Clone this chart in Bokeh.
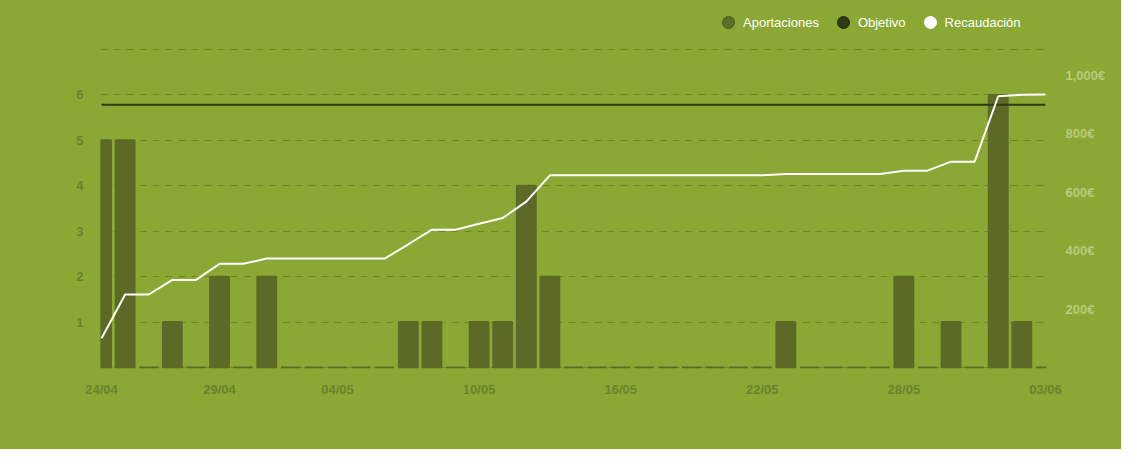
from bokeh.plotting import figure
from bokeh.models import Range1d, LinearAxis, FixedTicker, Legend, LegendItem, ColumnDataSource
from bokeh.embed import file_html
from bokeh.resources import INLINE

# ---- data -------------------------------------------------------------
fechas = ["24/04", "25/04", "26/04", "27/04", "28/04", "29/04", "30/04",
          "01/05", "02/05", "03/05", "04/05", "05/05", "06/05", "07/05",
          "08/05", "09/05", "10/05", "11/05", "12/05", "13/05", "14/05",
          "15/05", "16/05", "17/05", "18/05", "19/05", "20/05", "21/05",
          "22/05", "23/05", "24/05", "25/05", "26/05", "27/05", "28/05",
          "29/05", "30/05", "31/05", "01/06", "02/06", "03/06"]
aportaciones = [5, 5, 0, 1, 0, 2, 0, 2, 0, 0,
                0, 0, 0, 1, 1, 0, 1, 1, 4, 2,
                0, 0, 0, 0, 0, 0, 0, 0, 0, 1,
                0, 0, 0, 0, 2, 0, 1, 0, 6, 1,
                0]
recaudacion = [100, 250, 250, 300, 300, 355, 355, 373, 373, 373,
               373, 373, 373, 422, 472, 472, 492, 512, 568, 658,
               658, 658, 658, 658, 658, 658, 658, 658, 658, 663,
               663, 663, 663, 663, 674, 674, 705, 705, 929, 934,
               935]
objetivo = 900
x_tick_dates = ["24/04", "29/04", "04/05", "10/05", "16/05", "22/05", "28/05", "03/06"]
left_ticks = [1, 2, 3, 4, 5, 6]
right_ticks = [200, 400, 600, 800, 1000]
right_labels = ["200€", "400€", "600€", "800€", "1,000€"]

# ---- styles -----------------------------------------------------------
BG = "#8ba834"
BAR = "#5b6b27"
OBJ = "#2e3b10"
DARK_TXT = "#6a8230"
LIGHT_TXT = "#b8cb7e"
FONT = "Liberation Sans"

idx = list(range(len(fechas)))
src = ColumnDataSource(dict(x=idx, ap=aportaciones, rec=recaudacion,
                            obj=[objetivo] * len(fechas)))

PX = 318 / 7            # pixels per contribution unit
FRAME_H = 368
Y0 = -1 / PX
Y1 = Y0 + FRAME_H / PX
EUR = 1089 / 7          # euros per contribution unit on the right axis

p = figure(width=1121, height=449, output_backend="svg", toolbar_location=None,
           x_range=Range1d(-0.045, len(fechas) - 1 + 0.045), y_range=Range1d(Y0, Y1),
           min_border_left=100, min_border_right=75, min_border_top=0,
           min_border_bottom=449 - FRAME_H, background_fill_color=BG,
           border_fill_color=BG, outline_line_color=None)
p.styles = {"background-color": BG}
p.extra_y_ranges = {"eur": Range1d(Y0 * EUR, Y1 * EUR)}

# grid
p.xgrid.grid_line_color = None
p.ygrid.ticker = FixedTicker(ticks=list(range(0, 8)))
p.ygrid.grid_line_color = "#000000"
p.ygrid.grid_line_alpha = 0.2
p.ygrid.grid_line_dash = "7 6"
p.ygrid.grid_line_width = 1

# axes
xa = p.xaxis[0]
tick_pos = [fechas.index(d) for d in x_tick_dates]
xa.ticker = FixedTicker(ticks=tick_pos)
xa.major_label_overrides = {i: fechas[i] for i in tick_pos}
ya = p.yaxis[0]
ya.ticker = FixedTicker(ticks=left_ticks)
ra = LinearAxis(y_range_name="eur", ticker=FixedTicker(ticks=right_ticks))
ra.major_label_overrides = dict(zip(right_ticks, right_labels))
p.add_layout(ra, "right")
for ax in (xa, ya, ra):
    ax.axis_line_color = None
    ax.major_tick_line_color = None
    ax.minor_tick_line_color = None
    ax.major_tick_out = 0
    ax.major_tick_in = 0
    ax.minor_tick_out = 0
    ax.minor_tick_in = 0
    ax.major_label_text_color = DARK_TXT
    ax.major_label_text_font = FONT
    ax.major_label_text_font_size = "13px"
    ax.major_label_text_font_style = "bold"
xa.major_label_standoff = 13
ya.major_label_standoff = 17
ra.major_label_standoff = 19
ra.major_label_text_color = LIGHT_TXT

# marks
p.vbar(x="x", top="ap", bottom=0, width=0.8, source=src,
       fill_color=BAR, line_color=BAR, line_width=2)
p.line(x="x", y="obj", source=src, y_range_name="eur", line_color=OBJ, line_width=2)
p.line(x="x", y="rec", source=src, y_range_name="eur", line_color="white", line_width=2)

# legend (circle markers)
nan_src = ColumnDataSource(dict(x=[float("nan")], y=[float("nan")]))
r1 = p.scatter("x", "y", source=nan_src, marker="circle", size=12,
               fill_color="#5d6e2a", line_color="#4d5b20")
r2 = p.scatter("x", "y", source=nan_src, marker="circle", size=12,
               fill_color=OBJ, line_color="#1f290a")
r3 = p.scatter("x", "y", source=nan_src, marker="circle", size=12,
               fill_color="white", line_color="white")
legend = Legend(items=[LegendItem(label="Aportaciones", renderers=[r1]),
                       LegendItem(label="Objetivo", renderers=[r2]),
                       LegendItem(label="Recaudación", renderers=[r3])],
                orientation="horizontal", location=(613, FRAME_H - 37),
                glyph_width=30, glyph_height=30, label_standoff=0, spacing=9,
                padding=0, margin=0, background_fill_alpha=0, border_line_alpha=0,
                label_text_color="white", label_text_font=FONT,
                label_text_font_size="13px")
p.add_layout(legend, "center")

open("out.html", "w").write(file_html(p, INLINE))
